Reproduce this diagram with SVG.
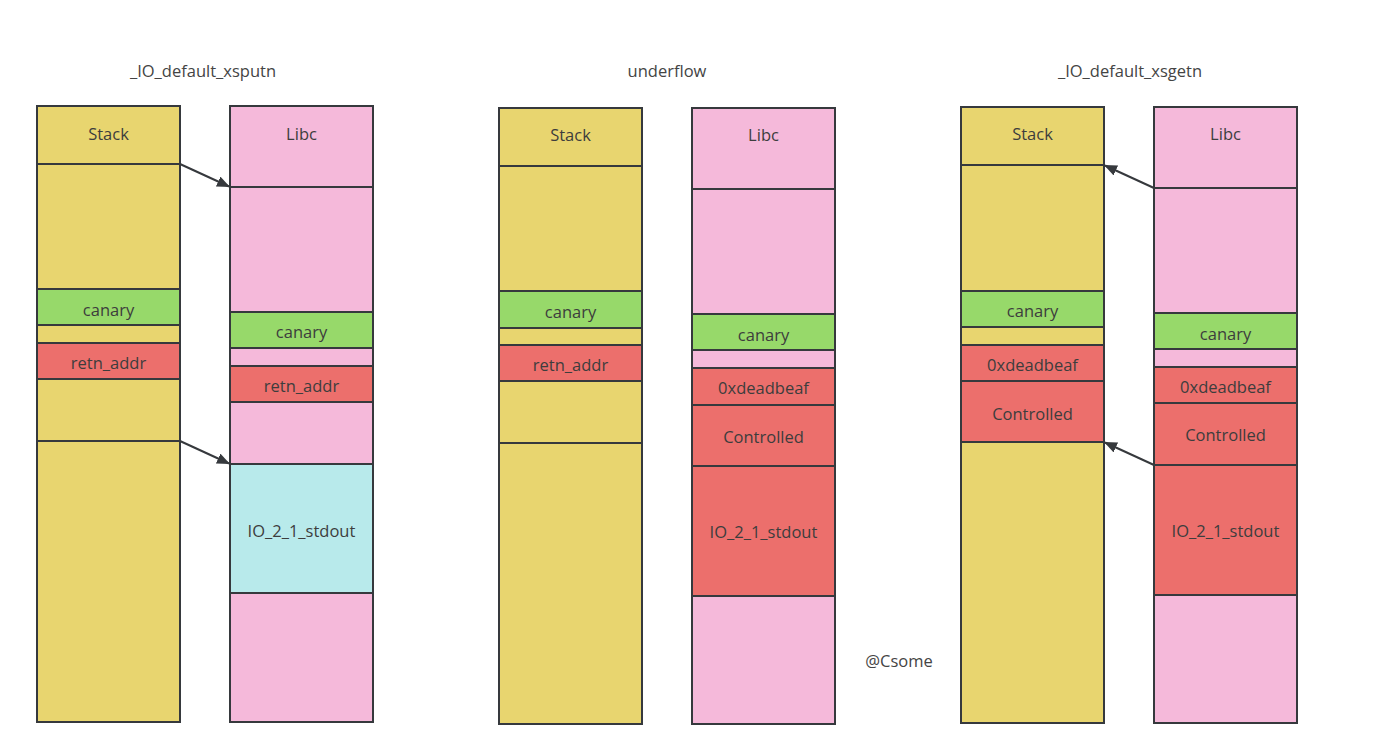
<svg xmlns="http://www.w3.org/2000/svg" width="1384" height="756" viewBox="0 0 1384 756">
<defs>
<style>
.y{fill:#e8d56f;stroke:#36393d;stroke-width:2}
.p{fill:#f5b9da;stroke:#36393d;stroke-width:2}
.g{fill:#97d96a;stroke:#36393d;stroke-width:2}
.r{fill:#ec6f6c;stroke:#36393d;stroke-width:2}
.c{fill:#b8eaeb;stroke:#36393d;stroke-width:2}
text{font-family:"Open Sans","Noto Sans",sans-serif;font-size:16.5px;fill:#3d3d3d;text-anchor:middle;dominant-baseline:central}
.t{fill:#444}
.conn line{stroke:#36393d;stroke-width:2;fill:none}
</style>
<marker id="ah" viewBox="0 0 12 10" refX="11" refY="5" markerWidth="13" markerHeight="11" markerUnits="userSpaceOnUse" orient="auto">
<path d="M0,0 L12,5 L0,10 z" fill="#36393d"/>
</marker>
</defs>
<rect width="1384" height="756" fill="#ffffff"/>

<text class="t" x="203" y="70">_IO_default_xsputn</text>
<text class="t" x="667" y="70">underflow</text>
<text class="t" x="1130" y="70">_IO_default_xsgetn</text>
<text class="t" x="899" y="660">@Csome</text>

<!-- Panel 1 -->
<g id="p1-stack">
<rect class="y" x="37" y="106" width="143" height="616"/>
<rect class="y" x="37" y="106" width="143" height="58"/><text x="108.5" y="133">Stack</text>
<rect class="y" x="37" y="164" width="143" height="125"/>
<rect class="g" x="37" y="289" width="143" height="36"/><text x="108.5" y="309">canary</text>
<rect class="y" x="37" y="325" width="143" height="18"/>
<rect class="r" x="37" y="343" width="143" height="36"/><text x="108.5" y="362">retn_addr</text>
<rect class="y" x="37" y="379" width="143" height="62"/>
<rect class="y" x="37" y="441" width="143" height="281"/>
</g>
<g id="p1-libc">
<rect class="p" x="230" y="106" width="143" height="616"/>
<rect class="p" x="230" y="106" width="143" height="81"/><text x="301.5" y="133">Libc</text>
<rect class="p" x="230" y="187" width="143" height="125"/>
<rect class="g" x="230" y="312" width="143" height="36"/><text x="301.5" y="331">canary</text>
<rect class="p" x="230" y="348" width="143" height="18"/>
<rect class="r" x="230" y="366" width="143" height="36"/><text x="301.5" y="385">retn_addr</text>
<rect class="p" x="230" y="402" width="143" height="62"/>
<rect class="c" x="230" y="464" width="143" height="129"/><text x="301.5" y="530">IO_2_1_stdout</text>
<rect class="p" x="230" y="593" width="143" height="129"/>
</g>

<!-- Panel 2 -->
<g id="p2-stack">
<rect class="y" x="499" y="108" width="143" height="616"/>
<rect class="y" x="499" y="108" width="143" height="58"/><text x="570.5" y="134">Stack</text>
<rect class="y" x="499" y="166" width="143" height="125"/>
<rect class="g" x="499" y="291" width="143" height="37"/><text x="570.5" y="311">canary</text>
<rect class="y" x="499" y="328" width="143" height="17"/>
<rect class="r" x="499" y="345" width="143" height="36"/><text x="570.5" y="364">retn_addr</text>
<rect class="y" x="499" y="381" width="143" height="62"/>
<rect class="y" x="499" y="443" width="143" height="281"/>
</g>
<g id="p2-libc">
<rect class="p" x="692" y="108" width="143" height="616"/>
<rect class="p" x="692" y="108" width="143" height="81"/><text x="763.5" y="134">Libc</text>
<rect class="p" x="692" y="189" width="143" height="125"/>
<rect class="g" x="692" y="314" width="143" height="36"/><text x="763.5" y="334">canary</text>
<rect class="p" x="692" y="350" width="143" height="18"/>
<rect class="r" x="692" y="368" width="143" height="37"/><text x="763.5" y="387">0xdeadbeaf</text>
<rect class="r" x="692" y="405" width="143" height="61"/><text x="763.5" y="436">Controlled</text>
<rect class="r" x="692" y="466" width="143" height="130"/><text x="763.5" y="531">IO_2_1_stdout</text>
<rect class="p" x="692" y="596" width="143" height="128"/>
</g>

<!-- Panel 3 -->
<g id="p3-stack">
<rect class="y" x="961" y="107" width="143" height="616"/>
<rect class="y" x="961" y="107" width="143" height="58"/><text x="1032.5" y="133">Stack</text>
<rect class="y" x="961" y="165" width="143" height="126"/>
<rect class="g" x="961" y="291" width="143" height="36"/><text x="1032.5" y="310">canary</text>
<rect class="y" x="961" y="327" width="143" height="18"/>
<rect class="r" x="961" y="345" width="143" height="36"/><text x="1032.5" y="364">0xdeadbeaf</text>
<rect class="r" x="961" y="381" width="143" height="61"/><text x="1032.5" y="413">Controlled</text>
<rect class="y" x="961" y="442" width="143" height="281"/>
</g>
<g id="p3-libc">
<rect class="p" x="1154" y="107" width="143" height="616"/>
<rect class="p" x="1154" y="107" width="143" height="81"/><text x="1225.5" y="133">Libc</text>
<rect class="p" x="1154" y="188" width="143" height="125"/>
<rect class="g" x="1154" y="313" width="143" height="36"/><text x="1225.5" y="333">canary</text>
<rect class="p" x="1154" y="349" width="143" height="18"/>
<rect class="r" x="1154" y="367" width="143" height="36"/><text x="1225.5" y="386">0xdeadbeaf</text>
<rect class="r" x="1154" y="403" width="143" height="62"/><text x="1225.5" y="434">Controlled</text>
<rect class="r" x="1154" y="465" width="143" height="130"/><text x="1225.5" y="530">IO_2_1_stdout</text>
<rect class="p" x="1154" y="595" width="143" height="128"/>
</g>

<g id="connectors" class="conn">
<line x1="180" y1="164" x2="229" y2="186.5" marker-end="url(#ah)"/>
<line x1="180" y1="441" x2="229" y2="463.5" marker-end="url(#ah)"/>
<line x1="1154" y1="188" x2="1105" y2="165.5" marker-end="url(#ah)"/>
<line x1="1154" y1="465" x2="1105" y2="442.5" marker-end="url(#ah)"/>
</g>
</svg>
